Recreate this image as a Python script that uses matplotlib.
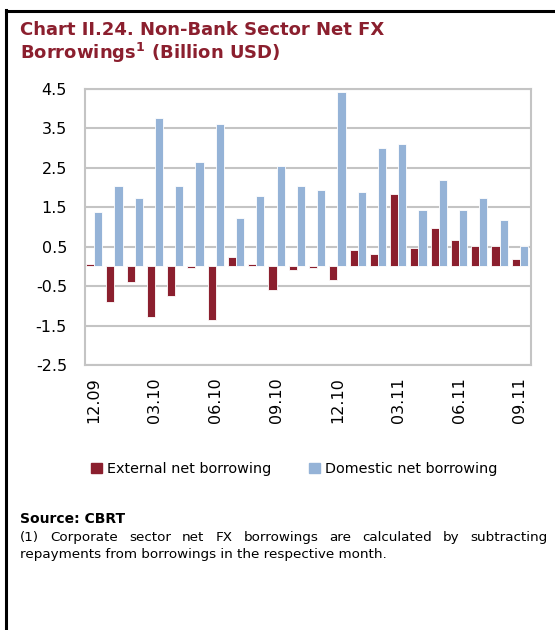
import matplotlib
matplotlib.use('Agg')
from matplotlib import pyplot as plt
from matplotlib.lines import Line2D
from matplotlib.patches import Patch
import numpy as np

months = ['12.09', '01.10', '02.10', '03.10', '04.10', '05.10', '06.10', '07.10',
          '08.10', '09.10', '10.10', '11.10', '12.10', '01.11', '02.11', '03.11',
          '04.11', '05.11', '06.11', '07.11', '08.11', '09.11']
external = [0.06, -0.91, -0.40, -1.27, -0.75, -0.04, -1.35, 0.25, 0.06, -0.61, -0.10,
            -0.05, -0.35, 0.41, 0.31, 1.84, 0.47, 0.97, 0.67, 0.52, 0.52, 0.20]
domestic = [1.37, 2.03, 1.74, 3.76, 2.03, 2.64, 3.62, 1.22, 1.78, 2.54, 2.03,
            1.94, 4.42, 1.88, 3.00, 3.11, 1.42, 2.19, 1.42, 1.74, 1.17, 0.51]
yticks = [-2.5, -1.5, -0.5, 0.5, 1.5, 2.5, 3.5, 4.5]

maroon = '#8B1F2E'
blue = '#95B3D7'
grid_c = '#C4C4C4'
title_c = '#8B1F2E'

plt.rcParams['font.family'] = ['DejaVu Sans']

W, H = 555, 630
fig = plt.figure(figsize=(W / 100, H / 100), dpi=100)

# frame lines on the left and top
fig.add_artist(Line2D([5.5 / W, 5.5 / W], [0, 1 - 10 / H], color='black', lw=2.2))
fig.add_artist(Line2D([5.5 / W, 1], [1 - 10.5 / H, 1 - 10.5 / H], color='black', lw=2.2))

fig.text(20 / W, 1 - 35 / H, 'Chart II.24. Non-Bank Sector Net FX', color=title_c,
         fontsize=13, fontweight='bold', va='baseline')
fig.text(20 / W, 1 - 59 / H, r'Borrowings$^{\mathbf{1}}$ (Billion USD)', color=title_c,
         fontsize=13, fontweight='bold', va='baseline')

ax = fig.add_axes([85 / W, 1 - 365 / H, (531 - 85) / W, (365 - 89) / H])
x = np.arange(len(months))
w = 0.4
ax.bar(x - w / 2, external, w, color=maroon, edgecolor='white', linewidth=0.6,
       zorder=3, label='External net borrowing')
ax.bar(x + w / 2, domestic, w, color=blue, edgecolor='white', linewidth=0.6,
       zorder=3, label='Domestic net borrowing')

ax.set_xlim(-0.45, len(months) - 0.45)
ax.set_ylim(-2.5, 4.5)
ax.set_yticks(yticks)
ax.set_yticklabels([f'{v:.1f}' for v in yticks], fontsize=11.5)
ax.set_xticks(x[::3])
ax.set_xticklabels(months[::3], rotation=90, fontsize=11.5)
ax.tick_params(axis='both', length=0)
ax.tick_params(axis='y', pad=13)
ax.tick_params(axis='x', pad=9)
ax.grid(axis='y', color=grid_c, lw=1.5, zorder=0)
for s in ax.spines.values():
    s.set_color(grid_c)
    s.set_linewidth(1.5)

handles = [Patch(color=maroon, label='External net borrowing'),
           Patch(color=blue, label='Domestic net borrowing')]
fig.legend(handles=handles, loc='center', bbox_to_anchor=(294 / W, 1 - 469 / H),
           ncol=2, frameon=False, fontsize=10.4, handlelength=0.75, handleheight=0.75,
           handletextpad=0.35, columnspacing=2.6)

fig.text(20 / W, 1 - 523 / H, 'Source: CBRT', fontsize=10, fontweight='bold', va='baseline')

# footnote, first line justified between the margins
line1 = '(1) Corporate sector net FX borrowings are calculated by subtracting'.split()
line2 = 'repayments from borrowings in the respective month.'
x0, x1 = 20, 548
fig.canvas.draw()
r = fig.canvas.get_renderer()
texts = [fig.text(0, 1 - 541 / H, wd, fontsize=9.7, va='baseline') for wd in line1]
widths = [t.get_window_extent(r).width for t in texts]
gap = (x1 - x0 - sum(widths)) / (len(widths) - 1)
pos = x0
for t, wd in zip(texts, widths):
    t.set_x(pos / W)
    pos += wd + gap
fig.text(x0 / W, 1 - 558 / H, line2, fontsize=9.7, va='baseline')

fig.savefig('out.png', dpi=100)
